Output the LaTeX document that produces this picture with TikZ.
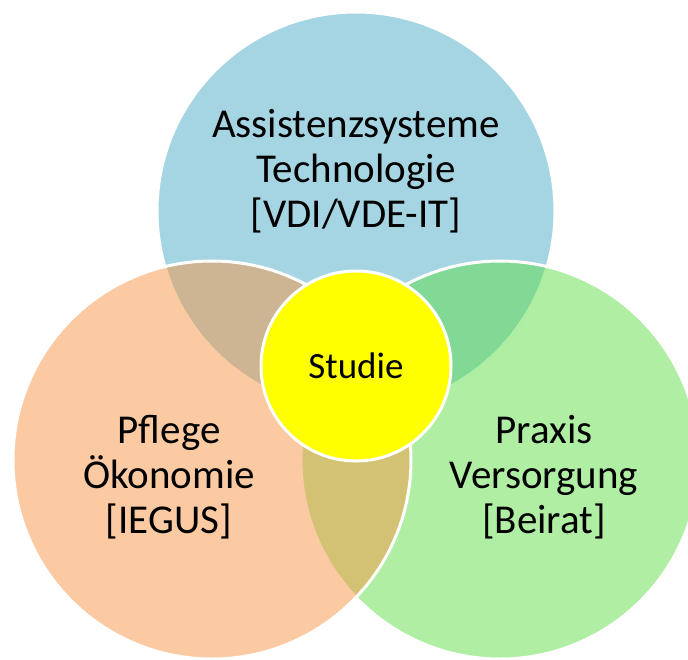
\documentclass[tikz,border=0pt]{standalone}
\usepackage{fontspec}
\setmainfont{Carlito}
\definecolor{techblue}{RGB}{75,172,198}
\definecolor{careorange}{RGB}{247,150,70}
\definecolor{practicegreen}{RGB}{95,222,72}
\definecolor{studyyellow}{RGB}{255,255,0}
\tikzset{
  venn/.style={circle, minimum size=398pt, inner sep=0pt, draw=white, line width=3pt, fill opacity=0.5, draw opacity=1},
  biglabel/.style={align=center, font=\fontsize{41}{45}\selectfont, text=black, inner sep=0pt},
  core/.style={circle, minimum size=190pt, inner sep=0pt, draw=white, line width=3pt, fill=studyyellow, font=\fontsize{37}{40}\selectfont}
}
\begin{document}
\begin{tikzpicture}[x=1pt,y=-1pt]
  \useasboundingbox (0,0) rectangle (688,659);
  % the three overlapping areas
  \node[venn, fill=techblue] (tech) at (356,211) {};
  \node[venn, fill=practicegreen] (prax) at (500,460) {};
  \node[venn, fill=careorange] (care) at (212,460) {};
  % labels
  \node[biglabel] (techlbl) at (356,171) {Assistenzsysteme\\Technologie\\{[VDI/VDE-IT]}};
  \node[biglabel] (carelbl) at (169,477) {Pflege\\Ökonomie\\{[IEGUS]}};
  \node[biglabel] (praxlbl) at (544,477) {Praxis\\Versorgung\\{[Beirat]}};
  % centre
  \node[core] (study) at (356,366) {Studie};
\end{tikzpicture}
\end{document}
